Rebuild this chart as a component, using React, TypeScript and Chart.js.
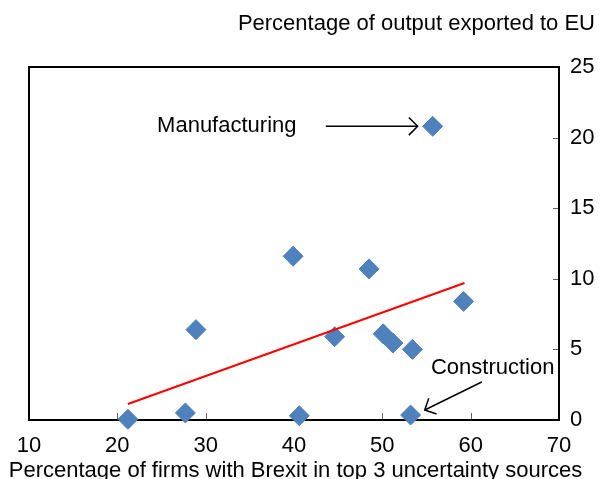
import React, { useEffect, useRef } from "react";
import { Chart, registerables } from "chart.js";
Chart.register(...registerables);

const sectorX = [55.7, 39.9, 48.5, 28.9, 44.6, 50.1, 51.2, 53.4, 59.2, 21.2, 27.7, 40.6, 53.2];
const sectorY = [20.8, 11.6, 10.7, 6.4, 5.9, 6.1, 5.45, 5.0, 8.4, 0.05, 0.5, 0.3, 0.35];
const trendX = [21.2, 59.3];
const trendY = [1.13, 9.7];
const xTickValues = [10, 20, 30, 40, 50, 60, 70];
const yTickValues = [0, 5, 10, 15, 20, 25];
const yTitle = "Percentage of output exported to EU";
const xTitle = "Percentage of firms with Brexit in top 3 uncertainty sources";
const annoLabels = ["Manufacturing", "Construction"];
const annoTextX = [24.5, 55.5];
const annoTextY = [20.8, 3.7];
const arrowFromX = [43.6, 61.25];
const arrowFromY = [20.8, 2.69];
const arrowToX = [54.0, 54.8];
const arrowToY = [20.8, 0.71];

const FONT = "'Liberation Sans', Arial, sans-serif";
const FS = 22;

const deco = {
  id: "deco",
  beforeDatasetsDraw(chart: any) {
    const { ctx, chartArea: a, scales } = chart;
    ctx.save();
    ctx.strokeStyle = "#606060";
    ctx.lineWidth = 1;
    xTickValues.slice(1, -1).forEach((v) => {
      const px = Math.round(scales.x.getPixelForValue(v)) + 0.5;
      ctx.beginPath();
      ctx.moveTo(px, a.bottom);
      ctx.lineTo(px, a.bottom - 7);
      ctx.stroke();
    });
    yTickValues.slice(1, -1).forEach((v) => {
      const py = Math.round(scales.y.getPixelForValue(v)) + 0.5;
      ctx.beginPath();
      ctx.moveTo(a.right, py);
      ctx.lineTo(a.right - 6, py);
      ctx.stroke();
    });
    ctx.strokeStyle = "#000";
    ctx.lineWidth = 2;
    ctx.strokeRect(a.left, a.top, a.right - a.left, a.bottom - a.top);
    ctx.restore();
  },
  afterDatasetsDraw(chart: any) {
    const { ctx, scales } = chart;
    const X = (v: number) => scales.x.getPixelForValue(v);
    const Y = (v: number) => scales.y.getPixelForValue(v);
    ctx.save();
    ctx.fillStyle = "#000";
    ctx.font = `${FS}px ${FONT}`;
    ctx.textAlign = "left";
    ctx.textBaseline = "middle";
    annoLabels.forEach((t, i) => {
      ctx.fillText(t, X(annoTextX[i]), Y(annoTextY[i]));
      const x1 = X(arrowFromX[i]);
      const y1 = Y(arrowFromY[i]);
      const x2 = X(arrowToX[i]);
      const y2 = Y(arrowToY[i]);
      ctx.strokeStyle = "#000";
      ctx.lineWidth = 1.5;
      ctx.beginPath();
      ctx.moveTo(x1, y1);
      ctx.lineTo(x2, y2);
      ctx.stroke();
      const ang = Math.atan2(y2 - y1, x2 - x1);
      const len = 12.5;
      const spread = Math.PI / 4;
      ctx.beginPath();
      ctx.moveTo(x2 - len * Math.cos(ang - spread), y2 - len * Math.sin(ang - spread));
      ctx.lineTo(x2, y2);
      ctx.lineTo(x2 - len * Math.cos(ang + spread), y2 - len * Math.sin(ang + spread));
      ctx.stroke();
    });
    ctx.restore();
  },
  afterDraw(chart: any) {
    const { ctx, scales } = chart;
    ctx.save();
    ctx.fillStyle = "#000";
    ctx.font = `${FS}px ${FONT}`;
    ctx.textAlign = "right";
    ctx.textBaseline = "middle";
    ctx.fillText(yTitle, 595, 24);
    ctx.textAlign = "center";
    ctx.textBaseline = "alphabetic";
    const cx = (scales.x.left + scales.x.right) / 2 + 1.5;
    ctx.fillText(xTitle, cx, 477);
    ctx.restore();
  },
};

export default function App() {
  const ref = useRef<HTMLCanvasElement | null>(null);
  useEffect(() => {
    if (!ref.current) return;
    const chart = new Chart(ref.current, {
      type: "scatter",
      data: {
        datasets: [
          {
            label: "Trend",
            data: trendX.map((x, i) => ({ x, y: trendY[i] })),
            showLine: true,
            borderColor: "#FF0000",
            borderWidth: 2,
            pointRadius: 0,
            fill: false,
          },
          {
            label: "Sectors",
            data: sectorX.map((x, i) => ({ x, y: sectorY[i] })),
            pointStyle: "rectRot",
            pointRadius: 10,
            pointHoverRadius: 10,
            backgroundColor: "#4F81BD",
            borderColor: "#4F81BD",
            borderWidth: 1,
            clip: false,
          } as any,
        ],
      },
      options: {
        responsive: false,
        animation: false,
        layout: { padding: { left: 29, top: 67, right: 0, bottom: 0 } },
        plugins: { legend: { display: false }, tooltip: { enabled: false }, title: { display: false } },
        scales: {
          x: {
            type: "linear",
            position: "bottom",
            min: 10,
            max: 70,
            afterBuildTicks: (s: any) => {
              s.ticks = xTickValues.map((v) => ({ value: v }));
            },
            afterFit: (s: any) => {
              s.height = 59;
              s.paddingLeft = 0;
              s.paddingRight = 0;
            },
            grid: { display: false, drawTicks: false },
            border: { display: false },
            ticks: { color: "#000", font: { family: FONT, size: FS }, padding: 13, maxRotation: 0, autoSkip: false },
            title: { display: false },
          },
          y: {
            type: "linear",
            position: "right",
            min: 0,
            max: 25,
            afterBuildTicks: (s: any) => {
              s.ticks = yTickValues.map((v) => ({ value: v }));
            },
            afterFit: (s: any) => {
              s.width = 47;
              s.paddingTop = 0;
              s.paddingBottom = 0;
            },
            grid: { display: false, drawTicks: false },
            border: { display: false },
            ticks: { color: "#000", font: { family: FONT, size: FS }, padding: 11 },
          },
        },
      },
      plugins: [deco],
    });
    return () => chart.destroy();
  }, []);
  return (
    <div style={{ position: "absolute", left: 0, top: 0, width: 606, height: 479 }}>
      <canvas ref={ref} width={606} height={479} style={{ display: "block" }} />
    </div>
  );
}
